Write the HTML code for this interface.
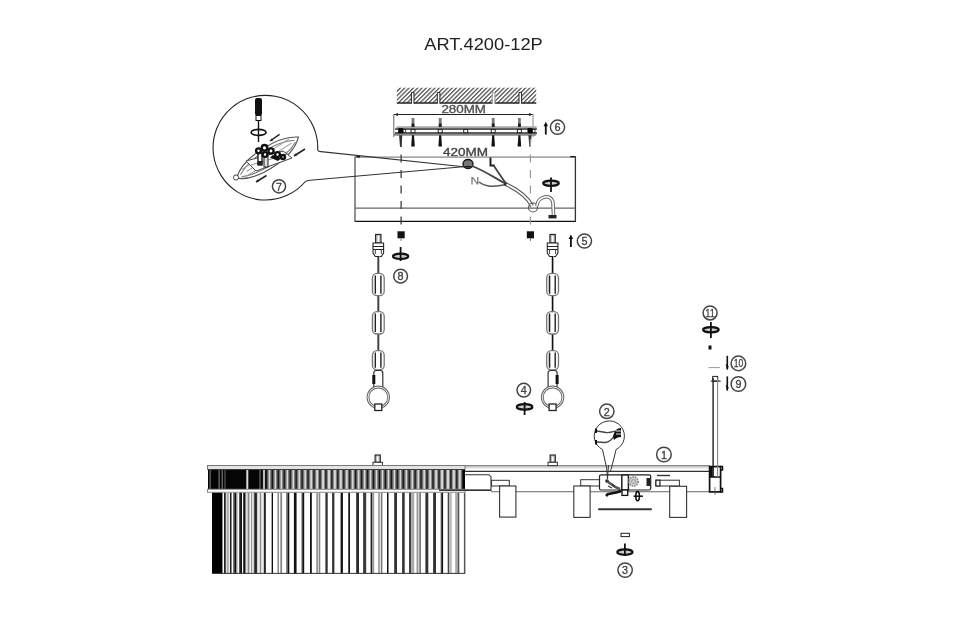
<!DOCTYPE html>
<html><head><meta charset="utf-8"><style>
html,body{margin:0;padding:0;background:#fff;}
svg{display:block;font-family:"Liberation Sans",sans-serif;filter:grayscale(1);}
</style></head><body>
<svg width="975" height="622" viewBox="0 0 975 622">
<rect width="975" height="622" fill="#fff"/>
<text x="483.5" y="50.4" font-size="17" text-anchor="middle" fill="#222" textLength="118.5" lengthAdjust="spacingAndGlyphs">ART.4200-12P</text>
<defs><pattern id="h" patternUnits="userSpaceOnUse" width="3.05" height="3.05" patternTransform="rotate(45)"><rect width="3.05" height="3.05" fill="#fff"/><rect x="0" y="0" width="1.3" height="3.05" fill="#555"/></pattern></defs>
<rect x="396.8" y="87.7" width="139.4" height="15.3" fill="url(#h)"/>
<line x1="396.8" y1="103" x2="536.2" y2="103" stroke="#222" stroke-width="1.3"/>
<rect x="411.4" y="92.4" width="2.6" height="11.5" fill="#fff"/>
<path d="M411.4,103.6 V92.4 H414.0 V103.6" fill="none" stroke="#222" stroke-width="1"/>
<rect x="437.3" y="92.4" width="2.6" height="11.5" fill="#fff"/>
<path d="M437.3,103.6 V92.4 H439.90000000000003 V103.6" fill="none" stroke="#222" stroke-width="1"/>
<rect x="492.3" y="92.4" width="2.6" height="11.5" fill="#fff"/>
<path d="M492.3,103.6 V92.4 H494.90000000000003 V103.6" fill="none" stroke="#999" stroke-width="1"/>
<rect x="519.0" y="92.4" width="2.6" height="11.5" fill="#fff"/>
<path d="M519.0,103.6 V92.4 H521.5999999999999 V103.6" fill="none" stroke="#222" stroke-width="1"/>
<text x="463.7" y="112.7" font-size="10.2" text-anchor="middle" fill="#555" stroke="#555" stroke-width="0.35" textLength="44.6" lengthAdjust="spacingAndGlyphs">280MM</text>
<line x1="394" y1="114.5" x2="533" y2="114.5" stroke="#222" stroke-width="1.1"/>
<path d="M394,114.5 l4,-1.5 v3z M533,114.5 l-4,-1.5 v3z" fill="#222"/>
<line x1="393.8" y1="114" x2="393.8" y2="137" stroke="#666" stroke-width="1"/>
<line x1="533" y1="114" x2="533" y2="137" stroke="#888" stroke-width="1"/>
<path d="M396.7,126.3 L537,126.3 L536,129 L395.5,129 Z" fill="#a8a8a8"/>
<path d="M395,132.5 L537,132.5 L536,135.8 L393.1,135.8 Z" fill="#888"/>
<rect x="395" y="129" width="142" height="3.5" fill="#fff"/>
<line x1="395" y1="129.2" x2="537" y2="129.2" stroke="#222" stroke-width="1.3"/>
<line x1="395" y1="132.8" x2="537" y2="132.8" stroke="#333" stroke-width="1.2"/>
<rect x="411" y="129.5" width="4" height="3.2" fill="#fff" stroke="#222" stroke-width="1"/>
<rect x="438.2" y="129.5" width="4" height="3.2" fill="#fff" stroke="#222" stroke-width="1"/>
<rect x="463.7" y="129.5" width="4" height="3.2" fill="#fff" stroke="#222" stroke-width="1"/>
<rect x="491.2" y="129.5" width="4" height="3.2" fill="#fff" stroke="#222" stroke-width="1"/>
<rect x="517.4" y="129.5" width="4" height="3.2" fill="#fff" stroke="#222" stroke-width="1"/>
<rect x="411.6" y="118" width="2.8" height="9" fill="#777"/>
<rect x="411.6" y="123.5" width="2.8" height="3.5" fill="#222"/>
<path d="M412,135.2 L414,135.2 L414.8,146.5 L411.2,146.5 Z" fill="#111"/>
<rect x="438.8" y="118" width="2.8" height="9" fill="#777"/>
<rect x="438.8" y="123.5" width="2.8" height="3.5" fill="#222"/>
<path d="M439.2,135.2 L441.2,135.2 L442.0,146.5 L438.4,146.5 Z" fill="#111"/>
<rect x="491.8" y="118" width="2.8" height="9" fill="#777"/>
<rect x="491.8" y="123.5" width="2.8" height="3.5" fill="#222"/>
<path d="M492.2,135.2 L494.2,135.2 L495.0,146.5 L491.4,146.5 Z" fill="#111"/>
<rect x="518.0" y="118" width="2.8" height="9" fill="#777"/>
<rect x="518.0" y="123.5" width="2.8" height="3.5" fill="#222"/>
<path d="M518.4,135.2 L520.4,135.2 L521.1999999999999,146.5 L517.6,146.5 Z" fill="#111"/>
<rect x="398.2" y="128.2" width="5" height="5" fill="#050505"/>
<rect x="403.2" y="129.5" width="2.5" height="3" fill="none" stroke="#222" stroke-width="0.8"/>
<path d="M399.09999999999997,135.3 L402.3,135.3 L401.4,146.7 L400.0,146.7Z" fill="#333"/>
<rect x="527.5" y="128.2" width="5" height="5" fill="#050505"/>
<rect x="532.5" y="129.5" width="2.5" height="3" fill="none" stroke="#222" stroke-width="0.8"/>
<path d="M528.4,135.3 L531.6,135.3 L530.7,146.7 L529.3,146.7Z" fill="#333"/>
<line x1="545.8" y1="124.7" x2="545.8" y2="134.6" stroke="#111" stroke-width="1.8"/>
<path d="M543.5,126.2 L545.8,121.7 L548.0999999999999,126.2Z" fill="#111"/>
<circle cx="557.5" cy="127.2" r="7.10" fill="none" stroke="#444" stroke-width="1.5"/>
<text x="557.5" y="131.40" font-size="11.8" text-anchor="middle" fill="#444" stroke="#444" stroke-width="0.35" textLength="6" lengthAdjust="spacingAndGlyphs">6</text>
<text x="465.5" y="155.5" font-size="11.2" text-anchor="middle" fill="#444" stroke="#444" stroke-width="0.35" textLength="45" lengthAdjust="spacingAndGlyphs">420MM</text>
<line x1="355" y1="157.2" x2="575.4" y2="157.2" stroke="#888" stroke-width="1.2"/>
<line x1="355" y1="221.4" x2="575.4" y2="221.4" stroke="#111" stroke-width="1.4"/>
<line x1="355" y1="156.6" x2="355" y2="222" stroke="#555" stroke-width="1.3"/>
<line x1="575.4" y1="156.6" x2="575.4" y2="222" stroke="#333" stroke-width="1.3"/>
<line x1="355" y1="208.2" x2="575.4" y2="208.2" stroke="#666" stroke-width="1.2"/>
<path d="M356.5,156.8 H360 M570.2,156.6 H575.4" stroke="#111" stroke-width="1.4"/>
<line x1="401.1" y1="139" x2="401.1" y2="226" stroke="#333" stroke-width="1.2" stroke-dasharray="8,7.5"/>
<rect x="397.5" y="231.3" width="7.2" height="7" fill="#111"/>
<line x1="401.1" y1="238" x2="401.1" y2="241" stroke="#777" stroke-width="1"/>
<line x1="530.4" y1="139" x2="530.4" y2="226" stroke="#999" stroke-width="1.2" stroke-dasharray="8,7.5"/>
<rect x="526.8" y="231.3" width="7.2" height="7" fill="#111"/>
<line x1="530.4" y1="238" x2="530.4" y2="241" stroke="#777" stroke-width="1"/>
<ellipse cx="468" cy="164" rx="5" ry="4.5" fill="#777" stroke="#111" stroke-width="1.3"/>
<path d="M464,166 A5,3 0 0 0 472,166" fill="#111"/>
<path d="M472,166 C483,170 495,178 506.3,184" fill="none" stroke="#444" stroke-width="1.8"/>
<path d="M494,166 C498,172 502,178 506.3,184" fill="none" stroke="#444" stroke-width="1.8"/>
<path d="M490.5,157.6 V165.5 H494.7" fill="none" stroke="#222" stroke-width="2"/>
<path d="M472,177 v7.5 M477.8,177 v7.5 M472.8,177.5 l4.5,6.5" fill="none" stroke="#777" stroke-width="1.3"/>
<path d="M479,182 C484,186 490,188 506.3,184.5" fill="none" stroke="#555" stroke-width="1.6"/>
<circle cx="506" cy="184.3" r="2" fill="#333"/>
<path d="M506.5,184.5 C518,190 528,198 532,206" fill="none" stroke="#555" stroke-width="4"/>
<path d="M506.5,184.5 C518,190 528,198 532,206" fill="none" stroke="#fff" stroke-width="1.8"/>
<circle cx="533" cy="207.5" r="4.5" fill="none" stroke="#555" stroke-width="1.1"/>
<path d="M537,206 C537,196 552,193 553,203 L553.5,215" fill="none" stroke="#666" stroke-width="3.6"/>
<path d="M537,206 C537,196 552,193 553,203 L553.5,215" fill="none" stroke="#fff" stroke-width="1.6"/>
<rect x="548.5" y="215" width="8" height="3.4" fill="#222"/>
<ellipse cx="551" cy="183.2" rx="7.8" ry="2.6" fill="#ccc" stroke="#111" stroke-width="2.2"/>
<line x1="551" y1="177.5" x2="551" y2="192" stroke="#111" stroke-width="1.8"/>
<path d="M317.7,150.4 A52.35,52.35 0 1 0 305.4,181.5" fill="none" stroke="#222" stroke-width="1.1"/>
<path d="M317.7,150.4 Q318.5,151.5 321,151.6 L466,167" fill="none" stroke="#333" stroke-width="1.1"/>
<path d="M305.4,181.5 Q307,180.5 310,180.2 L466,166.5" fill="none" stroke="#333" stroke-width="1.1"/>
<rect x="255" y="98" width="7" height="17.5" rx="2" fill="#111"/>
<rect x="256" y="115.5" width="5" height="5" fill="#fff" stroke="#111" stroke-width="1"/>
<line x1="258.5" y1="120" x2="258.5" y2="142" stroke="#111" stroke-width="1.4"/>
<ellipse cx="258.6" cy="132.4" rx="7.5" ry="3" fill="none" stroke="#111" stroke-width="1.6"/>
<g transform="translate(268,158.5) rotate(-29)"><path d="M-37,2 C-22,-14 20,-15 37,-4 C22,12 -20,15 -37,2Z" fill="#fff" stroke="#555" stroke-width="1.2"/><path d="M-32,1 C-15,-10 15,-11 32,-3 M-32,3 C-15,10 15,9 32,-1" fill="none" stroke="#777" stroke-width="1"/><path d="M-28,-3 L28,-7 M-28,5 L28,3 M-25,1 L28,-2" fill="none" stroke="#999" stroke-width="0.9"/></g>
<circle cx="236" cy="177.5" r="2.6" fill="#fff" stroke="#444" stroke-width="1"/>
<path d="M246,161 L283,151 L292,158 L256,171 Z" fill="#fff" stroke="#444" stroke-width="1"/>
<path d="M251,165 L288,154" stroke="#777" stroke-width="0.8"/>
<rect x="258" y="152" width="4" height="13" fill="#fff" stroke="#111" stroke-width="1.3"/>
<rect x="264" y="155" width="4" height="12" fill="#ddd" stroke="#333" stroke-width="1.1"/>
<rect x="257.5" y="161" width="5" height="4" fill="#222"/>
<circle cx="264.5" cy="147.8" r="2.8" fill="#fff" stroke="#111" stroke-width="2.4"/>
<circle cx="258.5" cy="150.8" r="2.4" fill="#fff" stroke="#111" stroke-width="2.4"/>
<circle cx="271" cy="151" r="2.6" fill="#fff" stroke="#111" stroke-width="2.4"/>
<circle cx="277.5" cy="154.5" r="2.4" fill="#fff" stroke="#111" stroke-width="2.4"/>
<circle cx="265" cy="154.5" r="2.4" fill="#fff" stroke="#111" stroke-width="2.4"/>
<circle cx="283" cy="157" r="2.0" fill="#fff" stroke="#111" stroke-width="2.4"/>
<path d="M273,155 L281,158.5 L278,161 L270,157.5Z" fill="#111"/>
<line x1="270" y1="141" x2="279.6" y2="134.4" stroke="#222" stroke-width="1.5"/>
<path d="M270,141 l3.2,-0.5 l-1.4,-2.2z" fill="#222"/>
<line x1="294" y1="156" x2="305" y2="149" stroke="#222" stroke-width="1.5"/>
<path d="M294,156 l3.2,-0.5 l-1.4,-2.2z" fill="#222"/>
<line x1="256" y1="182" x2="266.5" y2="175.5" stroke="#222" stroke-width="1.5"/>
<path d="M256,182 l3.2,-0.5 l-1.4,-2.2z" fill="#222"/>
<circle cx="279" cy="186.3" r="6.60" fill="none" stroke="#444" stroke-width="1.5"/>
<text x="279" y="190.50" font-size="11.8" text-anchor="middle" fill="#444" stroke="#444" stroke-width="0.35" textLength="6" lengthAdjust="spacingAndGlyphs">7</text>
<rect x="375.6" y="234.4" width="5.4" height="8.6" fill="#bbb" stroke="#222" stroke-width="1.1"/>
<rect x="377.5" y="236" width="1.6" height="6" fill="#fff"/>
<path d="M373.0,243 H383.6 V253 L381.3,256.5 H375.3 L373.0,253 Z" fill="#fff" stroke="#222" stroke-width="1.1"/>
<line x1="373.0" y1="246.5" x2="383.6" y2="246.5" stroke="#222" stroke-width="1"/>
<line x1="373.0" y1="249.5" x2="383.6" y2="249.5" stroke="#222" stroke-width="1"/>
<path d="M375.3,249.5 V254 M381.3,249.5 V254" stroke="#444" stroke-width="1"/>
<rect x="376.5" y="251" width="3.6" height="3" fill="#fff"/>
<line x1="379.2" y1="256" x2="379.2" y2="352" stroke="#aaa" stroke-width="1"/>
<line x1="378.1" y1="256" x2="378.1" y2="352" stroke="#111" stroke-width="1.3"/>
<rect x="372.40000000000003" y="273.4" width="11.8" height="22.3" rx="4.5" fill="#fff" stroke="#777" stroke-width="1.3"/>
<path d="M375.3,275.4 V293.7 M380.90000000000003,275.4 V293.7" stroke="#222" stroke-width="1.4"/>
<path d="M374.1,276.4 V292.7" stroke="#bbb" stroke-width="0.8"/>
<rect x="372.40000000000003" y="311.6" width="11.8" height="22.4" rx="4.5" fill="#fff" stroke="#777" stroke-width="1.3"/>
<path d="M375.3,313.6 V332 M380.90000000000003,313.6 V332" stroke="#222" stroke-width="1.4"/>
<path d="M374.1,314.6 V331" stroke="#bbb" stroke-width="0.8"/>
<rect x="372.40000000000003" y="350.6" width="11.8" height="19.2" rx="4.5" fill="#fff" stroke="#777" stroke-width="1.3"/>
<path d="M375.3,352.6 V367.8 M380.90000000000003,352.6 V367.8" stroke="#222" stroke-width="1.4"/>
<path d="M374.1,353.6 V366.8" stroke="#bbb" stroke-width="0.8"/>
<path d="M373.8,387 L373.8,373 Q373.8,370.5 376.3,370.5 L380.3,370.5 Q382.8,370.5 382.8,373 L382.8,388" fill="none" stroke="#333" stroke-width="1.2"/>
<rect x="372.3" y="375" width="3" height="9" fill="#111"/>
<circle cx="378.3" cy="397.3" r="10.3" fill="#fff" stroke="#666" stroke-width="2.8"/>
<circle cx="378.3" cy="397.3" r="10.3" fill="none" stroke="#fff" stroke-width="0.9"/>
<rect x="374.8" y="404" width="7" height="6.5" fill="#fff" stroke="#222" stroke-width="1.3"/>
<rect x="549.9" y="234.4" width="5.4" height="8.6" fill="#bbb" stroke="#222" stroke-width="1.1"/>
<rect x="551.8000000000001" y="236" width="1.6" height="6" fill="#fff"/>
<path d="M547.3000000000001,243 H557.9 V253 L555.6,256.5 H549.6 L547.3000000000001,253 Z" fill="#fff" stroke="#222" stroke-width="1.1"/>
<line x1="547.3000000000001" y1="246.5" x2="557.9" y2="246.5" stroke="#222" stroke-width="1"/>
<line x1="547.3000000000001" y1="249.5" x2="557.9" y2="249.5" stroke="#222" stroke-width="1"/>
<path d="M549.6,249.5 V254 M555.6,249.5 V254" stroke="#444" stroke-width="1"/>
<rect x="550.8000000000001" y="251" width="3.6" height="3" fill="#fff"/>
<line x1="553.5" y1="256" x2="553.5" y2="352" stroke="#aaa" stroke-width="1"/>
<line x1="552.4" y1="256" x2="552.4" y2="352" stroke="#111" stroke-width="1.3"/>
<rect x="546.7" y="273.4" width="11.8" height="22.3" rx="4.5" fill="#fff" stroke="#777" stroke-width="1.3"/>
<path d="M549.6,275.4 V293.7 M555.2,275.4 V293.7" stroke="#222" stroke-width="1.4"/>
<path d="M548.4,276.4 V292.7" stroke="#bbb" stroke-width="0.8"/>
<rect x="546.7" y="311.6" width="11.8" height="22.4" rx="4.5" fill="#fff" stroke="#777" stroke-width="1.3"/>
<path d="M549.6,313.6 V332 M555.2,313.6 V332" stroke="#222" stroke-width="1.4"/>
<path d="M548.4,314.6 V331" stroke="#bbb" stroke-width="0.8"/>
<rect x="546.7" y="350.6" width="11.8" height="19.2" rx="4.5" fill="#fff" stroke="#777" stroke-width="1.3"/>
<path d="M549.6,352.6 V367.8 M555.2,352.6 V367.8" stroke="#222" stroke-width="1.4"/>
<path d="M548.4,353.6 V366.8" stroke="#bbb" stroke-width="0.8"/>
<path d="M548.1,387 L548.1,373 Q548.1,370.5 550.6,370.5 L554.6,370.5 Q557.1,370.5 557.1,373 L557.1,388" fill="none" stroke="#333" stroke-width="1.2"/>
<rect x="555.6" y="375" width="3" height="9" fill="#111"/>
<circle cx="552.6" cy="397.3" r="10.3" fill="#fff" stroke="#666" stroke-width="2.8"/>
<circle cx="552.6" cy="397.3" r="10.3" fill="none" stroke="#fff" stroke-width="0.9"/>
<rect x="549.1" y="404" width="7" height="6.5" fill="#fff" stroke="#222" stroke-width="1.3"/>
<ellipse cx="400.6" cy="256.3" rx="7.6000000000000005" ry="2.6999999999999997" fill="#ccc" stroke="#111" stroke-width="2.2"/>
<line x1="400.6" y1="247" x2="400.6" y2="261" stroke="#111" stroke-width="1.8"/>
<circle cx="400.6" cy="276.2" r="6.90" fill="none" stroke="#444" stroke-width="1.5"/>
<text x="400.6" y="280.40" font-size="11.8" text-anchor="middle" fill="#444" stroke="#444" stroke-width="0.35" textLength="6" lengthAdjust="spacingAndGlyphs">8</text>
<line x1="570.9" y1="237.4" x2="570.9" y2="247.1" stroke="#111" stroke-width="1.8"/>
<path d="M568.6,238.9 L570.9,234.4 L573.1999999999999,238.9Z" fill="#111"/>
<circle cx="584.4" cy="241" r="7.10" fill="none" stroke="#444" stroke-width="1.5"/>
<text x="584.4" y="245.20" font-size="11.8" text-anchor="middle" fill="#444" stroke="#444" stroke-width="0.35" textLength="6" lengthAdjust="spacingAndGlyphs">5</text>
<circle cx="523.8" cy="390.1" r="6.80" fill="none" stroke="#444" stroke-width="1.5"/>
<text x="523.8" y="394.30" font-size="11.8" text-anchor="middle" fill="#444" stroke="#444" stroke-width="0.35" textLength="6" lengthAdjust="spacingAndGlyphs">4</text>
<ellipse cx="524.6" cy="406.9" rx="7.8" ry="2.6999999999999997" fill="#ccc" stroke="#111" stroke-width="2.2"/>
<line x1="524.6" y1="402" x2="524.6" y2="415" stroke="#111" stroke-width="1.8"/>
<circle cx="710.1" cy="312.9" r="7.00" fill="none" stroke="#444" stroke-width="1.5"/>
<text x="710.1" y="316.90" font-size="11" text-anchor="middle" fill="#444" stroke="#444" stroke-width="0.3" textLength="9.5" lengthAdjust="spacingAndGlyphs">11</text>
<ellipse cx="710.9" cy="329.8" rx="7.8" ry="2.6" fill="#ccc" stroke="#111" stroke-width="2.2"/>
<line x1="710.9" y1="322" x2="710.9" y2="338" stroke="#111" stroke-width="1.8"/>
<rect x="708.5" y="345.5" width="3" height="4" fill="#111"/>
<line x1="708.5" y1="367.6" x2="719.8" y2="367.6" stroke="#999" stroke-width="1"/>
<path d="M727.3,355.8 V369.2" stroke="#111" stroke-width="1.6"/>
<path d="M726.2,364 L727.3,369.5 L728.2,366" fill="#111" stroke="#111" stroke-width="0.8"/>
<circle cx="738.4" cy="363.4" r="7.30" fill="none" stroke="#444" stroke-width="1.5"/>
<text x="738.4" y="367.40" font-size="11" text-anchor="middle" fill="#444" stroke="#444" stroke-width="0.3" textLength="9.5" lengthAdjust="spacingAndGlyphs">10</text>
<path d="M727.3,376.4 V390.2" stroke="#111" stroke-width="1.6"/>
<path d="M726.2,385 L727.3,390.5 L728.2,387" fill="#111" stroke="#111" stroke-width="0.8"/>
<circle cx="738.4" cy="384" r="7.30" fill="none" stroke="#444" stroke-width="1.5"/>
<text x="738.4" y="388.20" font-size="11.8" text-anchor="middle" fill="#444" stroke="#444" stroke-width="0.35" textLength="6" lengthAdjust="spacingAndGlyphs">9</text>
<rect x="712.7" y="376.4" width="5" height="4.7" fill="#fff" stroke="#222" stroke-width="1"/>
<line x1="710.9" y1="381.1" x2="720.6" y2="381.1" stroke="#222" stroke-width="1.2"/>
<line x1="713.1" y1="378" x2="713.1" y2="477" stroke="#222" stroke-width="1.4"/>
<line x1="717.6" y1="378" x2="717.6" y2="477" stroke="#888" stroke-width="1.1"/>
<rect x="207" y="466" width="502" height="2.6" fill="#dcdcdc"/>
<line x1="207" y1="465.7" x2="710" y2="465.7" stroke="#666" stroke-width="1.1"/>
<line x1="465" y1="471.3" x2="709" y2="471.3" stroke="#333" stroke-width="1.2"/>
<line x1="491" y1="491.8" x2="709" y2="491.8" stroke="#666" stroke-width="1.1"/>
<rect x="375.09999999999997" y="455" width="5.2" height="7.2" fill="#bbb" stroke="#222" stroke-width="1.1"/>
<rect x="376.9" y="456.5" width="1.6" height="5" fill="#fff"/>
<rect x="373.0" y="462.3" width="9.4" height="3.3" fill="#fff" stroke="#333" stroke-width="1"/>
<rect x="550.1" y="455" width="5.2" height="7.2" fill="#bbb" stroke="#222" stroke-width="1.1"/>
<rect x="551.9000000000001" y="456.5" width="1.6" height="5" fill="#fff"/>
<rect x="548.0" y="462.3" width="9.4" height="3.3" fill="#fff" stroke="#333" stroke-width="1"/>
<rect x="709.6" y="466.6" width="11" height="25.3" fill="#fff" stroke="#111" stroke-width="1.7"/>
<rect x="709.6" y="466.6" width="3" height="10.4" fill="#111"/>
<line x1="709.6" y1="477" x2="720.6" y2="477" stroke="#111" stroke-width="1.5"/>
<line x1="713.1" y1="466" x2="713.1" y2="477" stroke="#111" stroke-width="1.5"/>
<line x1="717.6" y1="466" x2="717.6" y2="477" stroke="#888" stroke-width="1.1"/>
<path d="M720,466.6 h2.5 v3.5 h-2 M720,488.5 h2.5 v3.4 h-2.5" fill="none" stroke="#111" stroke-width="1.5"/>
<line x1="715" y1="487" x2="715" y2="495" stroke="#555" stroke-width="0.8"/>
<rect x="207.5" y="465.5" width="257.5" height="4" fill="#e4e4e4" stroke="#777" stroke-width="1"/>
<rect x="208" y="469.5" width="257" height="19.8" fill="#050505"/>
<rect x="209.60" y="470" width="1" height="19" fill="#888"/>
<rect x="218.60" y="470" width="1" height="19" fill="#888"/>
<rect x="221.70" y="470" width="1" height="19" fill="#888"/>
<rect x="224.50" y="470" width="1" height="19" fill="#666"/>
<rect x="246.30" y="470" width="2" height="19" fill="#ddd"/>
<rect x="259.50" y="470" width="1" height="19" fill="#888"/>
<rect x="262.90" y="470" width="2.2" height="19" fill="#bbb"/>
<rect x="266.80" y="470" width="0.80" height="19" fill="#555"/>
<rect x="267.60" y="470" width="0.90" height="19" fill="#999"/>
<rect x="268.50" y="470" width="2.00" height="19" fill="#d8d8d8"/>
<rect x="270.50" y="470" width="0.90" height="19" fill="#999"/>
<rect x="271.40" y="470" width="0.60" height="19" fill="#555"/>
<rect x="272.75" y="470" width="0.80" height="19" fill="#555"/>
<rect x="273.55" y="470" width="0.90" height="19" fill="#999"/>
<rect x="274.45" y="470" width="2.00" height="19" fill="#d8d8d8"/>
<rect x="276.45" y="470" width="0.90" height="19" fill="#999"/>
<rect x="277.35" y="470" width="0.60" height="19" fill="#555"/>
<rect x="278.70" y="470" width="0.80" height="19" fill="#555"/>
<rect x="279.50" y="470" width="0.90" height="19" fill="#999"/>
<rect x="280.40" y="470" width="2.00" height="19" fill="#d8d8d8"/>
<rect x="282.40" y="470" width="0.90" height="19" fill="#999"/>
<rect x="283.30" y="470" width="0.60" height="19" fill="#555"/>
<rect x="284.65" y="470" width="0.80" height="19" fill="#555"/>
<rect x="285.45" y="470" width="0.90" height="19" fill="#999"/>
<rect x="286.35" y="470" width="2.00" height="19" fill="#d8d8d8"/>
<rect x="288.35" y="470" width="0.90" height="19" fill="#999"/>
<rect x="289.25" y="470" width="0.60" height="19" fill="#555"/>
<rect x="290.60" y="470" width="0.80" height="19" fill="#555"/>
<rect x="291.40" y="470" width="0.90" height="19" fill="#999"/>
<rect x="292.30" y="470" width="2.00" height="19" fill="#d8d8d8"/>
<rect x="294.30" y="470" width="0.90" height="19" fill="#999"/>
<rect x="295.20" y="470" width="0.60" height="19" fill="#555"/>
<rect x="296.55" y="470" width="0.80" height="19" fill="#555"/>
<rect x="297.35" y="470" width="0.90" height="19" fill="#999"/>
<rect x="298.25" y="470" width="2.00" height="19" fill="#d8d8d8"/>
<rect x="300.25" y="470" width="0.90" height="19" fill="#999"/>
<rect x="301.15" y="470" width="0.60" height="19" fill="#555"/>
<rect x="302.50" y="470" width="0.80" height="19" fill="#555"/>
<rect x="303.30" y="470" width="0.90" height="19" fill="#999"/>
<rect x="304.20" y="470" width="2.00" height="19" fill="#d8d8d8"/>
<rect x="306.20" y="470" width="0.90" height="19" fill="#999"/>
<rect x="307.10" y="470" width="0.60" height="19" fill="#555"/>
<rect x="308.45" y="470" width="0.80" height="19" fill="#555"/>
<rect x="309.25" y="470" width="0.90" height="19" fill="#999"/>
<rect x="310.15" y="470" width="2.00" height="19" fill="#d8d8d8"/>
<rect x="312.15" y="470" width="0.90" height="19" fill="#999"/>
<rect x="313.05" y="470" width="0.60" height="19" fill="#555"/>
<rect x="314.40" y="470" width="0.80" height="19" fill="#555"/>
<rect x="315.20" y="470" width="0.90" height="19" fill="#999"/>
<rect x="316.10" y="470" width="2.00" height="19" fill="#d8d8d8"/>
<rect x="318.10" y="470" width="0.90" height="19" fill="#999"/>
<rect x="319.00" y="470" width="0.60" height="19" fill="#555"/>
<rect x="320.35" y="470" width="0.80" height="19" fill="#555"/>
<rect x="321.15" y="470" width="0.90" height="19" fill="#999"/>
<rect x="322.05" y="470" width="2.00" height="19" fill="#d8d8d8"/>
<rect x="324.05" y="470" width="0.90" height="19" fill="#999"/>
<rect x="324.95" y="470" width="0.60" height="19" fill="#555"/>
<rect x="326.30" y="470" width="0.80" height="19" fill="#555"/>
<rect x="327.10" y="470" width="0.90" height="19" fill="#999"/>
<rect x="328.00" y="470" width="2.00" height="19" fill="#d8d8d8"/>
<rect x="330.00" y="470" width="0.90" height="19" fill="#999"/>
<rect x="330.90" y="470" width="0.60" height="19" fill="#555"/>
<rect x="332.25" y="470" width="0.80" height="19" fill="#555"/>
<rect x="333.05" y="470" width="0.90" height="19" fill="#999"/>
<rect x="333.95" y="470" width="2.00" height="19" fill="#d8d8d8"/>
<rect x="335.95" y="470" width="0.90" height="19" fill="#999"/>
<rect x="336.85" y="470" width="0.60" height="19" fill="#555"/>
<rect x="338.20" y="470" width="0.80" height="19" fill="#555"/>
<rect x="339.00" y="470" width="0.90" height="19" fill="#999"/>
<rect x="339.90" y="470" width="2.00" height="19" fill="#d8d8d8"/>
<rect x="341.90" y="470" width="0.90" height="19" fill="#999"/>
<rect x="342.80" y="470" width="0.60" height="19" fill="#555"/>
<rect x="344.15" y="470" width="0.80" height="19" fill="#555"/>
<rect x="344.95" y="470" width="0.90" height="19" fill="#999"/>
<rect x="345.85" y="470" width="2.00" height="19" fill="#d8d8d8"/>
<rect x="347.85" y="470" width="0.90" height="19" fill="#999"/>
<rect x="348.75" y="470" width="0.60" height="19" fill="#555"/>
<rect x="350.10" y="470" width="0.80" height="19" fill="#555"/>
<rect x="350.90" y="470" width="0.90" height="19" fill="#999"/>
<rect x="351.80" y="470" width="2.00" height="19" fill="#d8d8d8"/>
<rect x="353.80" y="470" width="0.90" height="19" fill="#999"/>
<rect x="354.70" y="470" width="0.60" height="19" fill="#555"/>
<rect x="356.05" y="470" width="0.80" height="19" fill="#555"/>
<rect x="356.85" y="470" width="0.90" height="19" fill="#999"/>
<rect x="357.75" y="470" width="2.00" height="19" fill="#d8d8d8"/>
<rect x="359.75" y="470" width="0.90" height="19" fill="#999"/>
<rect x="360.65" y="470" width="0.60" height="19" fill="#555"/>
<rect x="362.00" y="470" width="0.80" height="19" fill="#555"/>
<rect x="362.80" y="470" width="0.90" height="19" fill="#999"/>
<rect x="363.70" y="470" width="2.00" height="19" fill="#d8d8d8"/>
<rect x="365.70" y="470" width="0.90" height="19" fill="#999"/>
<rect x="366.60" y="470" width="0.60" height="19" fill="#555"/>
<rect x="367.95" y="470" width="0.80" height="19" fill="#555"/>
<rect x="368.75" y="470" width="0.90" height="19" fill="#999"/>
<rect x="369.65" y="470" width="2.00" height="19" fill="#d8d8d8"/>
<rect x="371.65" y="470" width="0.90" height="19" fill="#999"/>
<rect x="372.55" y="470" width="0.60" height="19" fill="#555"/>
<rect x="373.90" y="470" width="0.80" height="19" fill="#555"/>
<rect x="374.70" y="470" width="0.90" height="19" fill="#999"/>
<rect x="375.60" y="470" width="2.00" height="19" fill="#d8d8d8"/>
<rect x="377.60" y="470" width="0.90" height="19" fill="#999"/>
<rect x="378.50" y="470" width="0.60" height="19" fill="#555"/>
<rect x="379.85" y="470" width="0.80" height="19" fill="#555"/>
<rect x="380.65" y="470" width="0.90" height="19" fill="#999"/>
<rect x="381.55" y="470" width="2.00" height="19" fill="#d8d8d8"/>
<rect x="383.55" y="470" width="0.90" height="19" fill="#999"/>
<rect x="384.45" y="470" width="0.60" height="19" fill="#555"/>
<rect x="385.80" y="470" width="0.80" height="19" fill="#555"/>
<rect x="386.60" y="470" width="0.90" height="19" fill="#999"/>
<rect x="387.50" y="470" width="2.00" height="19" fill="#d8d8d8"/>
<rect x="389.50" y="470" width="0.90" height="19" fill="#999"/>
<rect x="390.40" y="470" width="0.60" height="19" fill="#555"/>
<rect x="391.75" y="470" width="0.80" height="19" fill="#555"/>
<rect x="392.55" y="470" width="0.90" height="19" fill="#999"/>
<rect x="393.45" y="470" width="2.00" height="19" fill="#d8d8d8"/>
<rect x="395.45" y="470" width="0.90" height="19" fill="#999"/>
<rect x="396.35" y="470" width="0.60" height="19" fill="#555"/>
<rect x="397.70" y="470" width="0.80" height="19" fill="#555"/>
<rect x="398.50" y="470" width="0.90" height="19" fill="#999"/>
<rect x="399.40" y="470" width="2.00" height="19" fill="#d8d8d8"/>
<rect x="401.40" y="470" width="0.90" height="19" fill="#999"/>
<rect x="402.30" y="470" width="0.60" height="19" fill="#555"/>
<rect x="403.65" y="470" width="0.80" height="19" fill="#555"/>
<rect x="404.45" y="470" width="0.90" height="19" fill="#999"/>
<rect x="405.35" y="470" width="2.00" height="19" fill="#d8d8d8"/>
<rect x="407.35" y="470" width="0.90" height="19" fill="#999"/>
<rect x="408.25" y="470" width="0.60" height="19" fill="#555"/>
<rect x="409.60" y="470" width="0.80" height="19" fill="#555"/>
<rect x="410.40" y="470" width="0.90" height="19" fill="#999"/>
<rect x="411.30" y="470" width="2.00" height="19" fill="#d8d8d8"/>
<rect x="413.30" y="470" width="0.90" height="19" fill="#999"/>
<rect x="414.20" y="470" width="0.60" height="19" fill="#555"/>
<rect x="415.55" y="470" width="0.80" height="19" fill="#555"/>
<rect x="416.35" y="470" width="0.90" height="19" fill="#999"/>
<rect x="417.25" y="470" width="2.00" height="19" fill="#d8d8d8"/>
<rect x="419.25" y="470" width="0.90" height="19" fill="#999"/>
<rect x="420.15" y="470" width="0.60" height="19" fill="#555"/>
<rect x="421.50" y="470" width="0.80" height="19" fill="#555"/>
<rect x="422.30" y="470" width="0.90" height="19" fill="#999"/>
<rect x="423.20" y="470" width="2.00" height="19" fill="#d8d8d8"/>
<rect x="425.20" y="470" width="0.90" height="19" fill="#999"/>
<rect x="426.10" y="470" width="0.60" height="19" fill="#555"/>
<rect x="427.45" y="470" width="0.80" height="19" fill="#555"/>
<rect x="428.25" y="470" width="0.90" height="19" fill="#999"/>
<rect x="429.15" y="470" width="2.00" height="19" fill="#d8d8d8"/>
<rect x="431.15" y="470" width="0.90" height="19" fill="#999"/>
<rect x="432.05" y="470" width="0.60" height="19" fill="#555"/>
<rect x="433.40" y="470" width="0.80" height="19" fill="#555"/>
<rect x="434.20" y="470" width="0.90" height="19" fill="#999"/>
<rect x="435.10" y="470" width="2.00" height="19" fill="#d8d8d8"/>
<rect x="437.10" y="470" width="0.90" height="19" fill="#999"/>
<rect x="438.00" y="470" width="0.60" height="19" fill="#555"/>
<rect x="439.35" y="470" width="0.80" height="19" fill="#555"/>
<rect x="440.15" y="470" width="0.90" height="19" fill="#999"/>
<rect x="441.05" y="470" width="2.00" height="19" fill="#d8d8d8"/>
<rect x="443.05" y="470" width="0.90" height="19" fill="#999"/>
<rect x="443.95" y="470" width="0.60" height="19" fill="#555"/>
<rect x="445.30" y="470" width="0.80" height="19" fill="#555"/>
<rect x="446.10" y="470" width="0.90" height="19" fill="#999"/>
<rect x="447.00" y="470" width="2.00" height="19" fill="#d8d8d8"/>
<rect x="449.00" y="470" width="0.90" height="19" fill="#999"/>
<rect x="449.90" y="470" width="0.60" height="19" fill="#555"/>
<rect x="451.25" y="470" width="0.80" height="19" fill="#555"/>
<rect x="452.05" y="470" width="0.90" height="19" fill="#999"/>
<rect x="452.95" y="470" width="2.00" height="19" fill="#d8d8d8"/>
<rect x="454.95" y="470" width="0.90" height="19" fill="#999"/>
<rect x="455.85" y="470" width="0.60" height="19" fill="#555"/>
<rect x="457.20" y="470" width="0.80" height="19" fill="#555"/>
<rect x="458.00" y="470" width="0.90" height="19" fill="#999"/>
<rect x="458.90" y="470" width="2.00" height="19" fill="#d8d8d8"/>
<rect x="460.90" y="470" width="0.90" height="19" fill="#999"/>
<rect x="461.80" y="470" width="0.60" height="19" fill="#555"/>
<rect x="207.5" y="489.3" width="257.5" height="3" fill="#fff" stroke="#888" stroke-width="1"/>
<line x1="439" y1="490.3" x2="491" y2="490.3" stroke="#333" stroke-width="1.6"/>
<rect x="212" y="492.8" width="10" height="80.8" fill="#000"/>
<rect x="222" y="492.8" width="1" height="80.8" fill="#888"/>
<rect x="223" y="492.8" width="1" height="80.8" fill="#fff"/>
<rect x="224" y="492.8" width="1" height="80.8" fill="#222"/>
<rect x="225" y="492.8" width="1" height="80.8" fill="#555"/>
<rect x="226" y="492.8" width="1" height="80.8" fill="#ddd"/>
<rect x="227" y="492.8" width="1" height="80.8" fill="#aaa"/>
<rect x="228" y="492.8" width="1" height="80.8" fill="#bbb"/>
<rect x="229" y="492.8" width="1" height="80.8" fill="#eee"/>
<rect x="230" y="492.8" width="1" height="80.8" fill="#222"/>
<rect x="231" y="492.8" width="1" height="80.8" fill="#888"/>
<rect x="232" y="492.8" width="1" height="80.8" fill="#fff"/>
<rect x="233" y="492.8" width="1" height="80.8" fill="#777"/>
<rect x="234" y="492.8" width="1" height="80.8" fill="#444"/>
<rect x="235" y="492.8" width="1" height="80.8" fill="#111"/>
<rect x="236" y="492.8" width="1" height="80.8" fill="#999"/>
<rect x="237" y="492.8" width="1" height="80.8" fill="#ccc"/>
<rect x="238" y="492.8" width="1" height="80.8" fill="#fff"/>
<rect x="239" y="492.8" width="1" height="80.8" fill="#555"/>
<rect x="240" y="492.8" width="1" height="80.8" fill="#222"/>
<rect x="241" y="492.8" width="1" height="80.8" fill="#111"/>
<rect x="242" y="492.8" width="1" height="80.8" fill="#fff"/>
<rect x="243" y="492.8" width="1" height="80.8" fill="#444"/>
<rect x="244" y="492.8" width="1" height="80.8" fill="#111"/>
<rect x="245" y="492.8" width="1" height="80.8" fill="#888"/>
<rect x="246" y="492.8" width="1" height="80.8" fill="#ddd"/>
<rect x="247" y="492.8" width="1" height="80.8" fill="#ccc"/>
<rect x="248" y="492.8" width="1" height="80.8" fill="#888"/>
<rect x="249" y="492.8" width="1" height="80.8" fill="#ccc"/>
<rect x="250" y="492.8" width="1" height="80.8" fill="#eee"/>
<rect x="251" y="492.8" width="1" height="80.8" fill="#999"/>
<rect x="252" y="492.8" width="1" height="80.8" fill="#ddd"/>
<rect x="253" y="492.8" width="1" height="80.8" fill="#ccc"/>
<rect x="254" y="492.8" width="1" height="80.8" fill="#555"/>
<rect x="255" y="492.8" width="1" height="80.8" fill="#222"/>
<rect x="256" y="492.8" width="1" height="80.8" fill="#333"/>
<rect x="257" y="492.8" width="1" height="80.8" fill="#ccc"/>
<rect x="258" y="492.8" width="1" height="80.8" fill="#eee"/>
<rect x="259" y="492.8" width="1" height="80.8" fill="#ddd"/>
<rect x="260" y="492.8" width="1" height="80.8" fill="#888"/>
<rect x="261" y="492.8" width="1" height="80.8" fill="#ddd"/>
<rect x="262" y="492.8" width="1" height="80.8" fill="#eee"/>
<rect x="263" y="492.8" width="1" height="80.8" fill="#ccc"/>
<rect x="264" y="492.8" width="1" height="80.8" fill="#222"/>
<rect x="265" y="492.8" width="1" height="80.8" fill="#444"/>
<rect x="271" y="492.8" width="1.00" height="80.8" fill="#aaa"/>
<rect x="272" y="492.8" width="1.00" height="80.8" fill="#111"/>
<rect x="277.5" y="492.8" width="1.50" height="80.8" fill="#888"/>
<rect x="280.3" y="492.8" width="1.80" height="80.8" fill="#888"/>
<rect x="286" y="492.8" width="1.50" height="80.8" fill="#888"/>
<rect x="287.5" y="492.8" width="1.80" height="80.8" fill="#111"/>
<rect x="293.9" y="492.8" width="2.10" height="80.8" fill="#111"/>
<rect x="296" y="492.8" width="1.00" height="80.8" fill="#777"/>
<rect x="301.3" y="492.8" width="1.00" height="80.8" fill="#888"/>
<rect x="302.3" y="492.8" width="1.90" height="80.8" fill="#111"/>
<rect x="310" y="492.8" width="1.80" height="80.8" fill="#111"/>
<rect x="316.2" y="492.8" width="1.80" height="80.8" fill="#999"/>
<rect x="318.6" y="492.8" width="1.70" height="80.8" fill="#888"/>
<rect x="325.4" y="492.8" width="2.30" height="80.8" fill="#333"/>
<rect x="332.1" y="492.8" width="2.30" height="80.8" fill="#333"/>
<rect x="340.6" y="492.8" width="2.30" height="80.8" fill="#111"/>
<rect x="348.3" y="492.8" width="1.70" height="80.8" fill="#111"/>
<rect x="356.2" y="492.8" width="2.80" height="80.8" fill="#2a2a2a"/>
<rect x="363.1" y="492.8" width="3.10" height="80.8" fill="#3a3a3a"/>
<rect x="370.6" y="492.8" width="1.50" height="80.8" fill="#222"/>
<rect x="372.1" y="492.8" width="2.10" height="80.8" fill="#999"/>
<rect x="378" y="492.8" width="2.00" height="80.8" fill="#aaa"/>
<rect x="380.8" y="492.8" width="1.60" height="80.8" fill="#777"/>
<rect x="387" y="492.8" width="1.50" height="80.8" fill="#111"/>
<rect x="394.2" y="492.8" width="2.80" height="80.8" fill="#333"/>
<rect x="402.1" y="492.8" width="2.60" height="80.8" fill="#333"/>
<rect x="409" y="492.8" width="2.10" height="80.8" fill="#444"/>
<rect x="411.1" y="492.8" width="3.10" height="80.8" fill="#aaa"/>
<rect x="416.5" y="492.8" width="1.50" height="80.8" fill="#999"/>
<rect x="418" y="492.8" width="1.50" height="80.8" fill="#ccc"/>
<rect x="419.5" y="492.8" width="1.30" height="80.8" fill="#555"/>
<rect x="425.4" y="492.8" width="2.90" height="80.8" fill="#333"/>
<rect x="433.1" y="492.8" width="2.90" height="80.8" fill="#333"/>
<rect x="440.5" y="492.8" width="0.80" height="80.8" fill="#888"/>
<rect x="441.3" y="492.8" width="1.80" height="80.8" fill="#111"/>
<rect x="447.7" y="492.8" width="1.60" height="80.8" fill="#444"/>
<rect x="449.3" y="492.8" width="2.50" height="80.8" fill="#bbb"/>
<rect x="455.2" y="492.8" width="2.50" height="80.8" fill="#aaa"/>
<rect x="457.7" y="492.8" width="1.60" height="80.8" fill="#555"/>
<rect x="463.9" y="492.8" width="1.50" height="80.8" fill="#555"/>
<line x1="212" y1="573.4" x2="465" y2="573.4" stroke="#333" stroke-width="1"/>
<path d="M465,474.7 L489,474.7 L491,477 L491,490.3 L465,490.3" fill="none" stroke="#333" stroke-width="1.1"/>
<rect x="491.5" y="480.3" width="17.8" height="5.7" fill="#fff" stroke="#333" stroke-width="1"/>
<rect x="499.6" y="486" width="16.3" height="31.1" fill="#fff" stroke="#333" stroke-width="1.1"/>
<rect x="580.7" y="479.7" width="18.8" height="6.3" fill="#fff" stroke="#333" stroke-width="1"/>
<rect x="573.8" y="486" width="16.3" height="31.4" fill="#fff" stroke="#333" stroke-width="1.1"/>
<rect x="655.9" y="480.2" width="23.5" height="5.8" fill="#fff" stroke="#333" stroke-width="1"/>
<rect x="655.9" y="480.2" width="4" height="5.8" fill="#fff" stroke="#222" stroke-width="1.2"/>
<rect x="669.7" y="486.3" width="16.9" height="31.1" fill="#fff" stroke="#333" stroke-width="1.1"/>
<rect x="599.5" y="474.8" width="51.2" height="15.2" rx="1.5" fill="#fff" stroke="#222" stroke-width="1.2"/>
<line x1="599" y1="509.3" x2="651" y2="509.3" stroke="#333" stroke-width="2" stroke-linecap="round"/>
<rect x="621.8" y="475" width="6.6" height="15" fill="#fff" stroke="#222" stroke-width="1.5"/>
<circle cx="633.5" cy="481.5" r="4.6" fill="#d0d0d0" stroke="#888" stroke-width="1.8" stroke-dasharray="1.5,1"/>
<circle cx="633.5" cy="481.5" r="2" fill="none" stroke="#999" stroke-width="1"/>
<rect x="646.5" y="478" width="3.6" height="8" fill="#222"/>
<path d="M608.5,465 L607.5,479" stroke="#333" stroke-width="1"/>
<circle cx="607" cy="481" r="1.8" fill="#222"/>
<path d="M607,481 C611,484 614,487 620,489" fill="none" stroke="#555" stroke-width="2.4"/>
<path d="M608,486 l4,2 M612,484 l3,3" stroke="#333" stroke-width="1.2"/>
<path d="M621,491 C616,493 612,493 608,494 L606,496" fill="none" stroke="#111" stroke-width="2.6"/>
<rect x="622" y="490" width="5.7" height="5.4" fill="#fff" stroke="#111" stroke-width="1.3"/>
<ellipse cx="637.6" cy="496.2" rx="1.8" ry="4.6" fill="none" stroke="#111" stroke-width="1.6"/>
<line x1="633.5" y1="496.2" x2="643" y2="496.2" stroke="#111" stroke-width="1.5"/>
<path d="M657,475.5 L670,475.5" stroke="#333" stroke-width="1.4"/>
<path d="M602.5,449.5 A15.1,15.1 0 1 1 616.1,449.5" fill="#fff" stroke="#333" stroke-width="1"/>
<path d="M602.5,449.5 L606.7,468.3 L607.5,479 M616.1,449.5 L611.4,468.3 L610.5,471" fill="none" stroke="#333" stroke-width="1"/>
<path d="M597,431 L606,432.5 C610,433 612,432 615,431 M597,442 L605,442.5 C610,442 612,439 615,435" fill="none" stroke="#444" stroke-width="1.3"/>
<path d="M596,428.5 v4.5 M596,440 v4.5" stroke="#111" stroke-width="2"/>
<path d="M613,437 C614,431 617,428 621,428 L621,437 C618,437 616,438 614,440Z" fill="#111"/>
<path d="M616,431 h5 M616,434 h5" stroke="#fff" stroke-width="0.9"/>
<circle cx="606.8" cy="411.3" r="7.20" fill="none" stroke="#444" stroke-width="1.5"/>
<text x="606.8" y="415.50" font-size="11.8" text-anchor="middle" fill="#444" stroke="#444" stroke-width="0.35" textLength="6" lengthAdjust="spacingAndGlyphs">2</text>
<circle cx="663.9" cy="454.5" r="7.30" fill="none" stroke="#444" stroke-width="1.5"/>
<text x="663.9" y="458.70" font-size="11.8" text-anchor="middle" fill="#444" stroke="#444" stroke-width="0.35" textLength="6" lengthAdjust="spacingAndGlyphs">1</text>
<rect x="621" y="533.3" width="8.4" height="3.3" fill="#fff" stroke="#222" stroke-width="1"/>
<ellipse cx="624.9" cy="552.1" rx="7.6000000000000005" ry="2.6999999999999997" fill="#ccc" stroke="#111" stroke-width="2.2"/>
<line x1="624.9" y1="543.6" x2="624.9" y2="556" stroke="#111" stroke-width="1.8"/>
<circle cx="625.1" cy="570.1" r="7.20" fill="none" stroke="#444" stroke-width="1.5"/>
<text x="625.1" y="574.30" font-size="11.8" text-anchor="middle" fill="#444" stroke="#444" stroke-width="0.35" textLength="6" lengthAdjust="spacingAndGlyphs">3</text>
</svg></body></html>
